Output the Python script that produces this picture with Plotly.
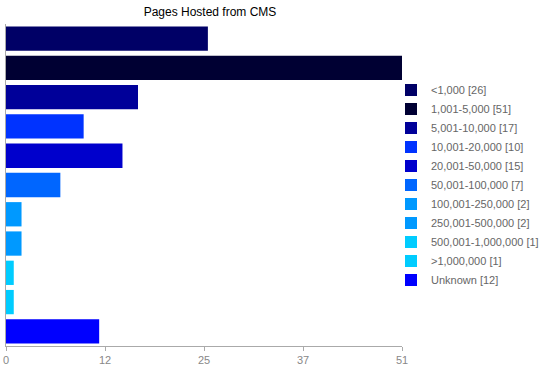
import plotly.graph_objects as go

categories = ["<1,000", "1,001-5,000", "5,001-10,000", "10,001-20,000", "20,001-50,000",
              "50,001-100,000", "100,001-250,000", "250,001-500,000", "500,001-1,000,000",
              ">1,000,000", "Unknown"]
values = [26, 51, 17, 10, 15, 7, 2, 2, 1, 1, 12]
colors = ["#000066", "#000033", "#000099", "#0033FF", "#0000CC", "#0066FF",
          "#0099FF", "#0099FF", "#00CCFF", "#00CCFF", "#0000FF"]
tick_vals = [0, 12.75, 25.5, 38.25, 51]
tick_text = ["0", "12", "25", "37", "51"]

fig = go.Figure()
for c, v, col in zip(categories, values, colors):
    fig.add_trace(go.Bar(
        x=[v], y=[c], orientation="h", name=f"{c} [{v}]",
        marker=dict(color=col, line=dict(width=0)),
        hoverinfo="x+name",
    ))

fig.update_layout(
    width=540, height=365,
    margin=dict(l=6, r=138, t=24, b=19, autoexpand=False),
    paper_bgcolor="white", plot_bgcolor="white",
    barmode="overlay", bargap=0.17,
    title=dict(text="Pages Hosted from CMS", x=210/540, xanchor="center",
               y=1 - 12/365, yanchor="middle",
               font=dict(family="Liberation Sans, Arial, sans-serif", size=12, color="#000")),
    font=dict(family="Liberation Sans, Arial, sans-serif", size=11, color="#666"),
    showlegend=True,
    legend=dict(x=(391-6)/396, xanchor="left", y=0.5, yanchor="middle",
                font=dict(size=11, color="#666"), traceorder="normal",
                itemwidth=30, tracegroupgap=0, bgcolor="rgba(0,0,0,0)"),
    xaxis=dict(range=[0, 51], tickvals=tick_vals, ticktext=tick_text,
               showgrid=False, zeroline=False, showline=True, linecolor="#aaa",
               ticks="outside", ticklen=4, tickcolor="#aaa",
               tickfont=dict(size=11, color="#888")),
    yaxis=dict(categoryorder="array", categoryarray=categories, autorange="reversed",
               showticklabels=False, showgrid=False, zeroline=False,
               showline=True, linecolor="#aaa", ticks=""),
)

fig.write_html("out.html", config={"displayModeBar": False},
               post_script="document.body.style.margin='0';document.body.style.overflow='hidden';")
